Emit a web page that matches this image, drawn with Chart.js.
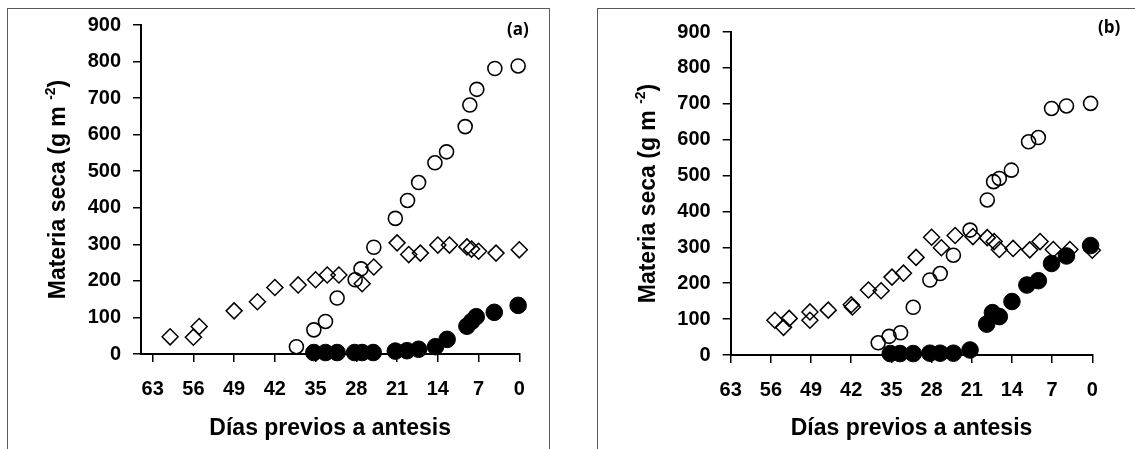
<!DOCTYPE html>
<html>
<head>
<meta charset="utf-8">
<script src="https://cdn.jsdelivr.net/npm/chart.js@4.4.0/dist/chart.umd.min.js"></script>
<style>
body{margin:0;background:#fff;width:1135px;height:449px;overflow:hidden;position:relative}
.box{position:absolute;border:1.5px solid #595959;box-sizing:border-box}
#boxA{left:7px;top:8px;width:543px;height:470px}
#boxB{left:597px;top:8px;width:600px;height:470px}
canvas{position:absolute;top:0}
#cA{left:0}
#cB{left:570px}
.tag{position:absolute;font:bold 17px 'Open Sans',sans-serif;color:#000;line-height:20px}
</style>
</head>
<body>
<div class="box" id="boxA"></div>
<div class="box" id="boxB"></div>
<canvas id="cA" width="560" height="449"></canvas>
<canvas id="cB" width="565" height="449"></canvas>
<div class="tag" style="left:507px;top:19px">(a)</div>
<div class="tag" style="left:1098px;top:17px">(b)</div>
<script>
const xTicks = [63, 56, 49, 42, 35, 28, 21, 14, 7, 0];

// panel (a)
const aDiamondDays = [60, 56, 55, 49, 45, 42, 38, 35, 33, 31, 27, 25, 21, 19, 17, 14, 12, 9, 8.2, 7, 4, 0];
const aDiamondVals = [47, 46, 75, 118, 143, 182, 189, 203, 216, 216, 192, 238, 304, 272, 276, 298, 298, 293, 287, 281, 276, 285];
const aOpenDays = [38.3, 35.3, 33.3, 31.3, 28.2, 27.2, 25, 21.3, 19.2, 17.3, 14.5, 12.5, 9.3, 8.5, 7.3, 4.2, 0.2];
const aOpenVals = [20, 66, 89, 153, 203, 233, 292, 371, 420, 469, 523, 553, 622, 681, 724, 781, 788];
const aFilledDays = [35.3, 33.3, 31.3, 28.3, 27, 25.1, 21.3, 19.3, 17.3, 14.4, 12.4, 9, 8.2, 7.4, 4.3, 0.2];
const aFilledVals = [4, 4, 4, 4, 4, 4, 8, 9, 13, 20, 40, 76, 89, 102, 114, 133];

// panel (b)
const bDiamondDays = [55.3, 53.8, 52.8, 49.2, 49.2, 46, 42, 41.8, 39, 36.8, 34.9, 32.9, 30.7, 28, 26.3, 23.9, 20.8, 18.3, 17.1, 16.2, 13.8, 10.9, 9.1, 6.8, 3.9, 0];
const bDiamondVals = [97, 77, 102, 120, 97, 125, 140, 134, 181, 179, 217, 228, 272, 328, 299, 333, 330, 327, 316, 294, 297, 293, 316, 294, 294, 292];
const bOpenDays = [37.3, 35.4, 33.4, 31.2, 28.3, 26.5, 24.2, 21.3, 18.3, 17.2, 16.2, 14.1, 11.1, 9.4, 7.1, 4.5, 0.3];
const bOpenVals = [34, 52, 62, 133, 209, 227, 278, 348, 432, 483, 492, 515, 594, 606, 687, 694, 701];
const bFilledDays = [35.2, 33.5, 31.2, 28.3, 26.5, 24.2, 21.3, 18.4, 17.4, 16.2, 14, 11.4, 9.4, 7.1, 4.5, 0.3];
const bFilledVals = [4, 4, 4, 5, 5, 5, 14, 86, 118, 107, 149, 195, 207, 255, 276, 305];

Chart.defaults.font.family = "'Liberation Sans', Arial, sans-serif";
Chart.defaults.color = '#000';

function pts(days, vals){
    return days.map((d, i) => ({x: d, y: vals[i]}));
}

// rotated y title with the superscript
const yTitle = {
    id: 'yTitle',
    afterDraw(chart, args, opts){
        const ctx = chart.ctx, a = chart.chartArea;
        const big = "bold 23px 'Liberation Sans', Arial, sans-serif";
        const small = "bold 14px 'Liberation Sans', Arial, sans-serif";
        const p1 = 'Materia seca (g m ', p2 = '-2', p3 = ')';
        ctx.save();
        ctx.font = big;
        const w1 = ctx.measureText(p1).width, w3 = ctx.measureText(p3).width;
        ctx.font = small;
        const w2 = ctx.measureText(p2).width;
        ctx.translate(opts.x, (a.top + a.bottom) / 2);
        ctx.rotate(-Math.PI / 2);
        ctx.fillStyle = '#000';
        ctx.textBaseline = 'middle';
        ctx.textAlign = 'left';
        const x0 = -(w1 + w2 + w3) / 2;
        ctx.font = big;
        ctx.fillText(p1, x0, 0);
        ctx.font = small;
        ctx.fillText(p2, x0 + w1, -8);
        ctx.font = big;
        ctx.fillText(p3, x0 + w1 + w2, 0);
        ctx.restore();
    }
};

function makePanel(id, d, p){
    new Chart(document.getElementById(id), {
        type: 'scatter',
        data: {
            datasets: [{
                data: pts(d.filledDays, d.filledVals),
                pointStyle: 'circle', pointRadius: 8.3,
                backgroundColor: '#000', borderColor: '#000', borderWidth: 1,
                clip: false
            }, {
                data: pts(d.openDays, d.openVals),
                pointStyle: 'circle', pointRadius: 7,
                backgroundColor: 'rgba(0,0,0,0)', borderColor: '#000', borderWidth: 1.6,
                clip: false
            }, {
                data: pts(d.diamondDays, d.diamondVals),
                pointStyle: 'rectRot', pointRadius: 8,
                backgroundColor: 'rgba(0,0,0,0)', borderColor: '#000', borderWidth: 1.5,
                clip: false
            }]
        },
        options: {
            responsive: false,
            animation: false,
            events: [],
            layout: {padding: {left: 0, top: p.top, right: p.right, bottom: 0}},
            plugins: {
                legend: {display: false},
                tooltip: {enabled: false},
                yTitle: {x: p.titleX}
            },
            scales: {
                x: {
                    type: 'linear', reverse: true, min: 0, max: p.xMax,
                    afterBuildTicks: s => { s.ticks = xTicks.map(v => ({value: v})); },
                    afterFit: s => { s.height = p.xH; },
                    border: {color: '#000', width: 2},
                    grid: {drawOnChartArea: false, color: '#000', lineWidth: 1.5, tickLength: 8},
                    ticks: {font: {size: 20, weight: 'bold'}, padding: 15, maxRotation: 0, autoSkip: false},
                    title: {display: true, text: 'Días previos a antesis', font: {size: 23, weight: 'bold'}, padding: {top: 0, bottom: 7}}
                },
                y: {
                    min: 0, max: 900,
                    afterFit: s => { s.width = p.yW; },
                    border: {color: '#000', width: 2},
                    grid: {drawOnChartArea: false, color: '#000', lineWidth: 1.5, tickLength: 8},
                    ticks: {stepSize: 100, font: {size: 20, weight: 'bold'}, padding: 12}
                }
            }
        },
        plugins: [yTitle]
    });
}

makePanel('cA', {
    diamondDays: aDiamondDays, diamondVals: aDiamondVals,
    openDays: aOpenDays, openVals: aOpenVals,
    filledDays: aFilledDays, filledVals: aFilledVals
}, {top: 25, right: 40.7, xMax: 65, xH: 95, yW: 141, titleX: 59});

makePanel('cB', {
    diamondDays: bDiamondDays, diamondVals: bDiamondVals,
    openDays: bOpenDays, openVals: bOpenVals,
    filledDays: bFilledDays, filledVals: bFilledVals
}, {top: 32, right: 42.7, xMax: 63, xH: 94, yW: 160.7, titleX: 79});
</script>
</body>
</html>
